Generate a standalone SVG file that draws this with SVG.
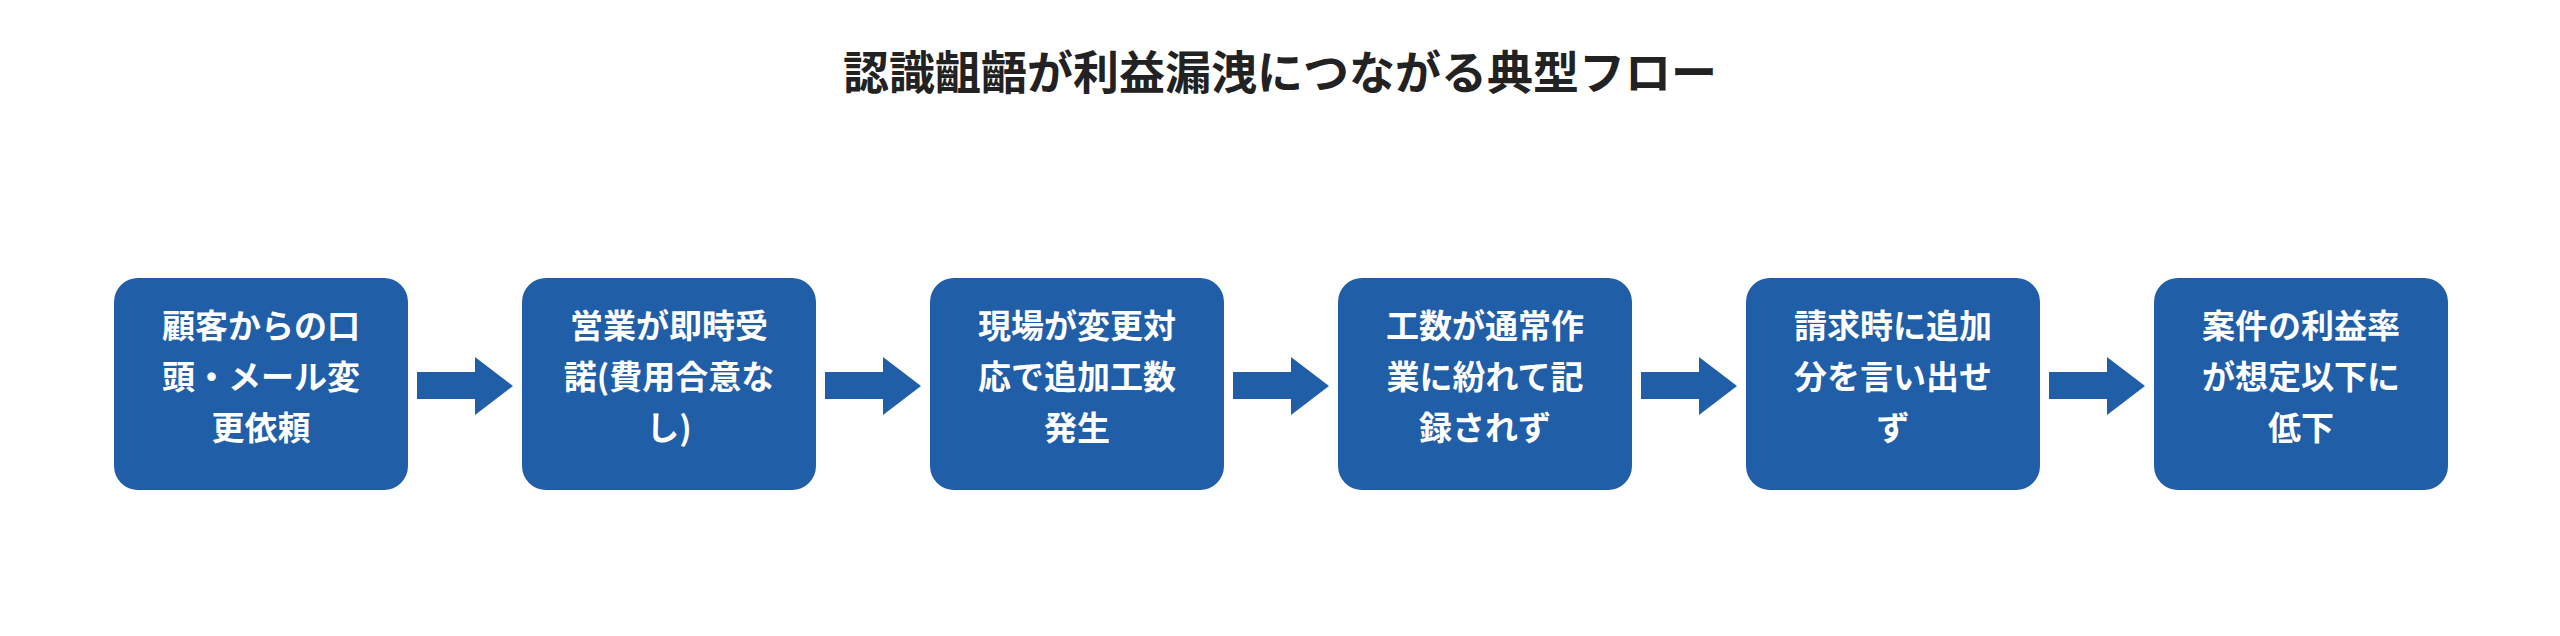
<svg xmlns="http://www.w3.org/2000/svg" width="2560" height="636" viewBox="0 0 2560 636">
<style>
.box{fill:#205EA8}
.t{font-family:"Noto Sans CJK JP","Liberation Sans",sans-serif;font-weight:bold;font-size:33px;fill:#fff;text-anchor:middle;dominant-baseline:central}
.title{font-family:"Noto Sans CJK JP","Liberation Sans",sans-serif;font-weight:bold;font-size:46px;fill:#222;text-anchor:middle;dominant-baseline:central}
.arr{fill:#205EA8}
</style>
<rect width="2560" height="636" fill="#fff"/>
<text class="title" x="1280" y="69">認識齟齬が利益漏洩につながる典型フロー</text>
<g id="n1"><rect class="box" x="114" y="278" width="294" height="212" rx="24"/><text class="t" x="261" y="324">顧客からの口</text><text class="t" x="261" y="375">頭・メール変</text><text class="t" x="261" y="426">更依頼</text></g>
<g id="n2"><rect class="box" x="522" y="278" width="294" height="212" rx="24"/><text class="t" x="669" y="324">営業が即時受</text><text class="t" x="669" y="375">諾(費用合意な</text><text class="t" x="669" y="426">し)</text></g>
<g id="n3"><rect class="box" x="930" y="278" width="294" height="212" rx="24"/><text class="t" x="1077" y="324">現場が変更対</text><text class="t" x="1077" y="375">応で追加工数</text><text class="t" x="1077" y="426">発生</text></g>
<g id="n4"><rect class="box" x="1338" y="278" width="294" height="212" rx="24"/><text class="t" x="1485" y="324">工数が通常作</text><text class="t" x="1485" y="375">業に紛れて記</text><text class="t" x="1485" y="426">録されず</text></g>
<g id="n5"><rect class="box" x="1746" y="278" width="294" height="212" rx="24"/><text class="t" x="1893" y="324">請求時に追加</text><text class="t" x="1893" y="375">分を言い出せ</text><text class="t" x="1893" y="426">ず</text></g>
<g id="n6"><rect class="box" x="2154" y="278" width="294" height="212" rx="24"/><text class="t" x="2301" y="324">案件の利益率</text><text class="t" x="2301" y="375">が想定以下に</text><text class="t" x="2301" y="426">低下</text></g>
<g id="connectors">
<polygon class="arr" points="417,372 475,372 475,357 513,386 475,415 475,399 417,399"/>
<polygon class="arr" transform="translate(408,0)" points="417,372 475,372 475,357 513,386 475,415 475,399 417,399"/>
<polygon class="arr" transform="translate(816,0)" points="417,372 475,372 475,357 513,386 475,415 475,399 417,399"/>
<polygon class="arr" transform="translate(1224,0)" points="417,372 475,372 475,357 513,386 475,415 475,399 417,399"/>
<polygon class="arr" transform="translate(1632,0)" points="417,372 475,372 475,357 513,386 475,415 475,399 417,399"/>
</g>
</svg>
